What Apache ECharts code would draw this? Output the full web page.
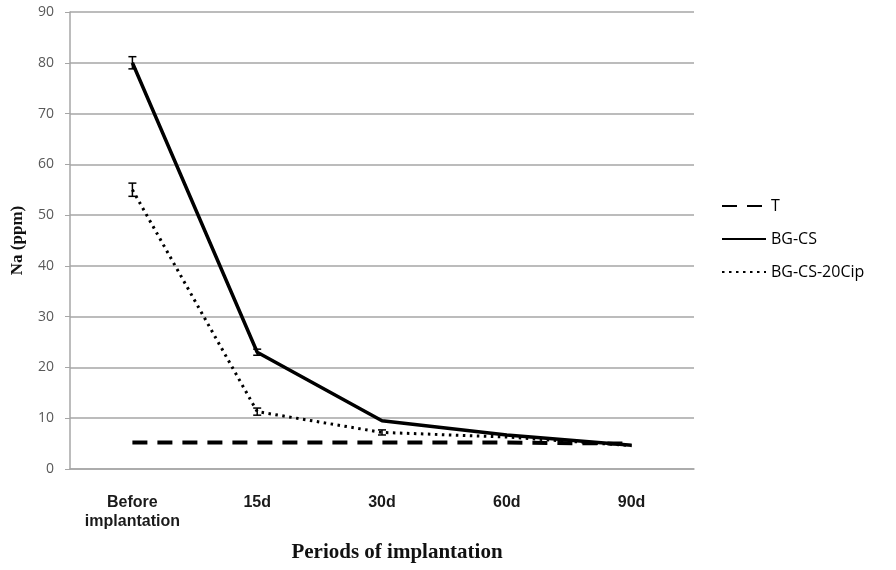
<!DOCTYPE html>
<html>
<head>
<meta charset="utf-8">
<script src="https://cdn.jsdelivr.net/npm/echarts@6/dist/echarts.min.js"></script>
<style>html,body{margin:0;padding:0;background:#fff;}#chart{width:896px;height:570px;}</style>
</head>
<body>
<div id="chart"></div>
<script>
var categories = ['Before\nimplantation', '15d', '30d', '60d', '90d'];
var seriesT = [5.2, 5.2, 5.2, 5.2, 5.0];
var seriesBGCS = [80, 23, 9.5, 6.7, 4.7];
var seriesBGCS20Cip = [55, 11.3, 7.2, 6.3, 4.6];
var errBGCS = [1.2, 0.6, 0, 0, 0];
var errBGCS20Cip = [1.3, 0.7, 0.5, 0, 0];
var yTicks = [0, 10, 20, 30, 40, 50, 60, 70, 80, 90];

function errData(vals, errs) {
  var out = [];
  for (var i = 0; i < vals.length; i++) {
    if (errs[i] > 0) out.push([i, vals[i] - errs[i], vals[i] + errs[i]]);
  }
  return out;
}
function renderErr(params, api) {
  var x = api.value(0);
  var lo = api.coord([x, api.value(1)]);
  var hi = api.coord([x, api.value(2)]);
  var hw = 4;
  var st = { stroke: '#000', lineWidth: 1.5 };
  return {
    type: 'group',
    children: [
      { type: 'line', shape: { x1: lo[0], y1: lo[1], x2: hi[0], y2: hi[1] }, style: st },
      { type: 'line', shape: { x1: lo[0] - hw, y1: lo[1], x2: lo[0] + hw, y2: lo[1] }, style: st },
      { type: 'line', shape: { x1: hi[0] - hw, y1: hi[1], x2: hi[0] + hw, y2: hi[1] }, style: st }
    ]
  };
}

var chart = echarts.init(document.getElementById('chart'));
chart.setOption({
  animation: false,
  backgroundColor: '#fff',
  grid: { left: 70, right: 202, top: 12, bottom: 101, containLabel: false, outerBoundsMode: 'none' },
  legend: {
    orient: 'vertical',
    left: 716,
    top: 193,
    itemWidth: 44,
    itemHeight: 20,
    itemGap: 13,
    itemGap: 17,
    itemStyle: { opacity: 0 },
    textStyle: { fontFamily: 'Open Sans', fontSize: 16, color: '#000' },
    data: ['T', 'BG-CS', 'BG-CS-20Cip']
  },
  xAxis: {
    type: 'category',
    data: categories,
    boundaryGap: true,
    axisLine: { lineStyle: { color: '#a6a6a6', width: 1.5 } },
    axisTick: { show: false },
    axisLabel: { fontFamily: 'Liberation Sans', fontWeight: 'bold', fontSize: 16, color: '#1a1a1a', margin: 24, lineHeight: 19 },
    name: 'Periods of implantation',
    nameLocation: 'middle',
    nameGap: 73,
    nameTextStyle: { fontFamily: 'Liberation Serif', fontWeight: 'bold', fontSize: 21, color: '#111', padding: [0, 0, 0, 30] }
  },
  yAxis: {
    type: 'value',
    min: 0,
    max: 90,
    interval: 10,
    axisLine: { show: true, lineStyle: { color: '#a6a6a6', width: 1.5 } },
    axisTick: { show: true, length: 5, lineStyle: { color: '#a6a6a6' } },
    splitLine: { lineStyle: { color: '#a6a6a6', width: 1.5 } },
    axisLabel: { fontFamily: 'Open Sans', fontSize: 14, color: '#595959', margin: 16,
      formatter: function (v) { return yTicks.indexOf(v) >= 0 ? String(v) : ''; } },
    name: 'Na (ppm)',
    nameLocation: 'middle',
    nameGap: 44,
    nameTextStyle: { fontFamily: 'Liberation Serif', fontWeight: 'bold', fontSize: 17, color: '#111' }
  },
  series: [
    {
      name: 'T', type: 'line', data: seriesT, symbol: 'none', z: 2,
      lineStyle: { color: '#000', width: 4, type: [15, 10] },
      itemStyle: { color: '#000' }
    },
    {
      name: 'BG-CS', type: 'line', data: seriesBGCS, symbol: 'none', z: 4,
      lineStyle: { color: '#000', width: 3.5, type: 'solid' },
      itemStyle: { color: '#000' }
    },
    {
      name: 'BG-CS-20Cip', type: 'line', data: seriesBGCS20Cip, symbol: 'none', z: 3,
      lineStyle: { color: '#000', width: 3, type: [2.5, 4.5] },
      itemStyle: { color: '#000' }
    },
    {
      name: 'errBGCS', type: 'custom', renderItem: renderErr, data: errData(seriesBGCS, errBGCS), z: 5,
      encode: { x: 0, y: [1, 2] }
    },
    {
      name: 'errCip', type: 'custom', renderItem: renderErr, data: errData(seriesBGCS20Cip, errBGCS20Cip), z: 5,
      encode: { x: 0, y: [1, 2] }
    }
  ]
});
</script>
</body>
</html>
